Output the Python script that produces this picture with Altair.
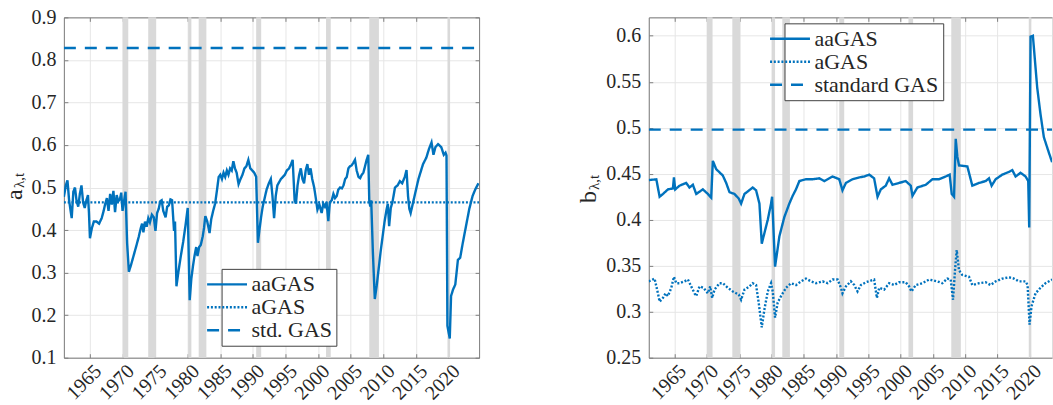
import altair as alt
import pandas as pd

FONT = "Liberation Serif"
BLUE = "#0072BD"
BAND = "#d9d9d9"
GRID = "#e6e6e6"
AXC = "#808080"
TXT = "#262626"

# ---------------- data ----------------
X_MIN = 1961.0
A_X_MAX = 2024.7
B_X_MAX = 2023.45
A_Y_DOM = [0.1, 0.9]
B_Y_DOM = [0.25, 0.62]
X_TICKS = [1965, 1970, 1975, 1980, 1985, 1990, 1995, 2000, 2005, 2010, 2015, 2020]
A_Y_TICKS = [0.1, 0.2, 0.3, 0.4, 0.5, 0.6, 0.7, 0.8, 0.9]
B_Y_TICKS = [0.25, 0.3, 0.35, 0.4, 0.45, 0.5, 0.55, 0.6]

REC_START = [1970.0, 1973.94, 1980.06, 1981.68, 1990.5, 2001.22, 2007.85, 2019.85]
REC_END = [1970.88, 1975.16, 1980.56, 1982.86, 1991.27, 2001.94, 2009.33, 2020.25]

A_NAMES = ["aaGAS", "aGAS", "std. GAS"]
B_NAMES = ["aaGAS", "aGAS", "standard GAS"]

A_AGAS_CONST = 0.465
A_STD_CONST = 0.828
B_STD_CONST = 0.498

A_AA_YEAR = [1961.00, 1961.30, 1961.55, 1961.80, 1962.20, 1962.45, 1962.70, 1962.95, 1963.20, 1963.45,
             1963.70, 1963.95, 1964.20, 1964.45, 1964.70, 1964.85, 1965.00, 1965.30, 1965.60, 1966.00,
             1966.40, 1966.80, 1967.10, 1967.35, 1967.60, 1967.85, 1968.10, 1968.35, 1968.60, 1968.85,
             1969.10, 1969.35, 1969.60, 1969.80, 1970.00, 1970.25, 1970.46, 1970.70, 1970.97, 1971.30,
             1971.70, 1972.10, 1972.50, 1972.80, 1973.00, 1973.20, 1973.45, 1973.70, 1973.95, 1974.20,
             1974.50, 1974.80, 1975.05, 1975.30, 1975.55, 1975.80, 1976.00, 1976.25, 1976.60, 1976.85,
             1977.10, 1977.35, 1977.60, 1977.90, 1978.05, 1978.27, 1978.60, 1978.95, 1979.30, 1979.65,
             1980.00, 1980.30, 1980.55, 1980.80, 1981.05, 1981.30, 1981.50, 1981.75, 1982.00, 1982.30,
             1982.50, 1982.70, 1983.00, 1983.35, 1983.60, 1983.90, 1984.20, 1984.50, 1984.75, 1985.00,
             1985.25, 1985.50, 1985.75, 1986.00, 1986.25, 1986.50, 1986.75, 1987.00, 1987.25, 1987.50,
             1987.80, 1988.10, 1988.40, 1988.70, 1989.00, 1989.30, 1989.60, 1989.90, 1990.20, 1990.50,
             1990.77, 1991.00, 1991.25, 1991.50, 1991.80, 1992.10, 1992.45, 1992.75, 1993.00, 1993.25,
             1993.50, 1993.75, 1994.00, 1994.30, 1994.60, 1994.90, 1995.20, 1995.55, 1995.85, 1996.10,
             1996.40, 1996.60, 1996.85, 1997.10, 1997.35, 1997.60, 1997.85, 1998.10, 1998.35, 1998.60,
             1998.85, 1999.10, 1999.40, 1999.65, 1999.90, 2000.20, 2000.55, 2000.80, 2001.05, 2001.30,
             2001.57, 2001.80, 2002.10, 2002.35, 2002.60, 2002.86, 2003.10, 2003.37, 2003.65, 2003.90,
             2004.15, 2004.40, 2004.65, 2004.90, 2005.15, 2005.40, 2005.66, 2005.92, 2006.20, 2006.45,
             2006.70, 2006.95, 2007.20, 2007.45, 2007.70, 2007.85, 2008.00, 2008.15, 2008.40, 2008.70,
             2009.00, 2009.30, 2009.60, 2009.90, 2010.20, 2010.50, 2010.70, 2010.90, 2011.15, 2011.40,
             2011.80, 2012.20, 2012.55, 2012.90, 2013.30, 2013.57, 2013.80, 2014.00, 2014.20, 2014.50,
             2014.80, 2015.10, 2015.40, 2015.70, 2016.10, 2016.60, 2017.00, 2017.40, 2017.70, 2018.00,
             2018.40, 2018.90, 2019.28, 2019.55, 2019.70, 2019.84, 2020.20, 2020.40, 2020.70, 2021.05,
             2021.45, 2021.80, 2022.20, 2022.70, 2023.20, 2023.70, 2024.10, 2024.60]
A_AA_VAL = [0.478, 0.505, 0.517, 0.470, 0.428, 0.490, 0.500, 0.468, 0.455, 0.485,
            0.505, 0.465, 0.452, 0.470, 0.482, 0.440, 0.381, 0.405, 0.420, 0.420,
            0.415, 0.428, 0.445, 0.462, 0.475, 0.445, 0.485, 0.460, 0.492, 0.442,
            0.482, 0.468, 0.472, 0.488, 0.445, 0.470, 0.490, 0.370, 0.302, 0.318,
            0.340, 0.362, 0.385, 0.405, 0.415, 0.395, 0.420, 0.408, 0.428, 0.418,
            0.436, 0.430, 0.398, 0.440, 0.450, 0.468, 0.470, 0.445, 0.430, 0.455,
            0.458, 0.472, 0.470, 0.398, 0.420, 0.268, 0.305, 0.340, 0.372, 0.410,
            0.452, 0.235, 0.285, 0.315, 0.340, 0.360, 0.339, 0.360, 0.365, 0.385,
            0.405, 0.433, 0.420, 0.393, 0.425, 0.445, 0.462, 0.495, 0.525, 0.530,
            0.520, 0.535, 0.525, 0.540, 0.530, 0.545, 0.540, 0.562, 0.545, 0.535,
            0.508, 0.520, 0.530, 0.545, 0.550, 0.565, 0.545, 0.540, 0.535, 0.525,
            0.370, 0.400, 0.430, 0.455, 0.475, 0.495, 0.510, 0.520, 0.480, 0.428,
            0.480, 0.505, 0.512, 0.520, 0.525, 0.530, 0.540, 0.545, 0.555, 0.565,
            0.470, 0.462, 0.505, 0.530, 0.545, 0.520, 0.510, 0.540, 0.555, 0.530,
            0.545, 0.520, 0.500, 0.475, 0.448, 0.460, 0.440, 0.462, 0.455, 0.465,
            0.421, 0.465, 0.470, 0.485, 0.475, 0.480, 0.495, 0.500, 0.498, 0.505,
            0.520, 0.525, 0.545, 0.550, 0.552, 0.558, 0.565, 0.540, 0.525, 0.522,
            0.530, 0.535, 0.550, 0.565, 0.577, 0.470, 0.455, 0.470, 0.350, 0.238,
            0.270, 0.310, 0.350, 0.385, 0.420, 0.448, 0.462, 0.409, 0.452, 0.465,
            0.500, 0.505, 0.515, 0.510, 0.525, 0.541, 0.480, 0.450, 0.440, 0.460,
            0.480, 0.500, 0.520, 0.535, 0.555, 0.570, 0.590, 0.606, 0.577, 0.595,
            0.602, 0.595, 0.577, 0.582, 0.575, 0.175, 0.145, 0.245, 0.260, 0.272,
            0.330, 0.335, 0.370, 0.410, 0.450, 0.480, 0.495, 0.510]

B_AA_YEAR = [1961.00, 1962.17, 1962.68, 1963.20, 1963.97, 1964.74, 1964.90, 1965.10, 1965.77, 1966.80,
             1967.30, 1967.83, 1968.35, 1969.38, 1970.15, 1970.67, 1970.92, 1971.44, 1972.47, 1972.99,
             1973.50, 1974.27, 1974.94, 1975.30, 1975.82, 1977.10, 1977.62, 1978.14, 1978.50, 1979.43,
             1979.94, 1980.10, 1980.56, 1981.23, 1982.00, 1982.77, 1983.29, 1983.80, 1984.32, 1985.35,
             1986.38, 1987.41, 1988.18, 1989.47, 1990.50, 1991.00, 1991.53, 1992.56, 1993.60, 1994.37,
             1995.14, 1995.90, 1996.43, 1996.94, 1997.70, 1998.23, 1998.74, 1999.77, 2000.80, 2001.58,
             2001.84, 2002.60, 2003.90, 2004.93, 2005.96, 2006.99, 2007.60, 2007.92, 2008.28, 2008.54,
             2008.79, 2009.05, 2010.34, 2011.11, 2012.14, 2013.17, 2013.69, 2014.10, 2014.72, 2015.75,
             2016.78, 2017.30, 2017.81, 2018.58, 2019.36, 2019.77, 2019.92, 2020.13, 2020.49, 2021.16,
             2021.67, 2022.19, 2022.96, 2023.47]
B_AA_VAL = [0.443, 0.444, 0.425, 0.428, 0.433, 0.434, 0.446, 0.433, 0.437, 0.440,
            0.435, 0.438, 0.428, 0.433, 0.428, 0.424, 0.464, 0.455, 0.448, 0.440,
            0.430, 0.428, 0.423, 0.4175, 0.428, 0.435, 0.432, 0.4175, 0.374, 0.400,
            0.4175, 0.425, 0.349, 0.382, 0.403, 0.4175, 0.426, 0.433, 0.442, 0.444,
            0.444, 0.445, 0.442, 0.447, 0.444, 0.432, 0.440, 0.444, 0.446, 0.447,
            0.449, 0.445, 0.425, 0.433, 0.437, 0.445, 0.438, 0.440, 0.442, 0.437,
            0.426, 0.435, 0.438, 0.444, 0.444, 0.447, 0.449, 0.428, 0.425, 0.488,
            0.4685, 0.459, 0.458, 0.437, 0.440, 0.442, 0.445, 0.437, 0.444, 0.449,
            0.452, 0.454, 0.447, 0.451, 0.447, 0.442, 0.3915, 0.599, 0.600, 0.5435,
            0.5147, 0.4897, 0.473, 0.4625]

B_A_YEAR = [1961.00, 1961.90, 1962.42, 1962.68, 1963.20, 1963.60, 1963.97, 1964.49, 1964.90, 1965.26,
            1965.77, 1966.55, 1967.06, 1967.58, 1968.09, 1968.35, 1968.86, 1969.48, 1970.15, 1970.51,
            1970.82, 1971.18, 1971.96, 1972.47, 1973.24, 1974.02, 1974.94, 1975.30, 1975.82, 1976.59,
            1977.10, 1977.62, 1978.03, 1978.50, 1978.91, 1979.43, 1979.94, 1980.20, 1980.56, 1980.97,
            1981.49, 1982.26, 1983.03, 1983.80, 1984.58, 1985.35, 1986.12, 1986.90, 1987.93, 1988.70,
            1989.47, 1990.24, 1990.76, 1991.00, 1991.53, 1992.30, 1992.82, 1993.33, 1993.85, 1994.62,
            1995.90, 1996.33, 1996.69, 1997.46, 1998.23, 1999.00, 1999.77, 2000.80, 2001.32, 2001.68,
            2002.35, 2003.38, 2004.41, 2005.70, 2006.47, 2007.24, 2007.76, 2008.12, 2008.43, 2008.69,
            2009.05, 2009.56, 2010.60, 2011.11, 2012.14, 2013.17, 2013.94, 2014.72, 2015.75, 2016.78,
            2017.55, 2018.32, 2019.36, 2019.67, 2019.97, 2020.28, 2020.90, 2021.67, 2022.44, 2023.47]
B_A_VAL = [0.333, 0.336, 0.320, 0.311, 0.315, 0.320, 0.317, 0.326, 0.338, 0.331,
           0.331, 0.333, 0.335, 0.3275, 0.320, 0.317, 0.3275, 0.326, 0.320, 0.3275,
           0.315, 0.324, 0.331, 0.331, 0.326, 0.322, 0.3186, 0.313, 0.324, 0.3275,
           0.331, 0.329, 0.3096, 0.283, 0.3025, 0.322, 0.331, 0.322, 0.2936, 0.310,
           0.317, 0.326, 0.331, 0.329, 0.333, 0.336, 0.333, 0.331, 0.333, 0.331,
           0.335, 0.335, 0.326, 0.320, 0.3275, 0.333, 0.329, 0.322, 0.329, 0.332,
           0.335, 0.315, 0.326, 0.324, 0.331, 0.329, 0.332, 0.332, 0.3275, 0.322,
           0.329, 0.331, 0.335, 0.333, 0.331, 0.336, 0.335, 0.313, 0.345, 0.367,
           0.345, 0.340, 0.338, 0.329, 0.331, 0.332, 0.329, 0.333, 0.336, 0.3375,
           0.336, 0.333, 0.333, 0.329, 0.286, 0.306, 0.320, 0.326, 0.331, 0.335]

# ---------------- tables ----------------
def series_df(names, aa_year, aa_val, a_year, a_val, std_year, std_val):
    rows = []
    for y, v in zip(aa_year, aa_val):
        rows.append({"year": y, "value": v, "series": names[0]})
    for y, v in zip(a_year, a_val):
        rows.append({"year": y, "value": v, "series": names[1]})
    for y, v in zip(std_year, std_val):
        rows.append({"year": y, "value": v, "series": names[2]})
    return pd.DataFrame(rows)


df_a = series_df(A_NAMES, A_AA_YEAR, A_AA_VAL,
                 [X_MIN, A_X_MAX], [A_AGAS_CONST, A_AGAS_CONST],
                 [X_MIN, A_X_MAX], [A_STD_CONST, A_STD_CONST])
df_b = series_df(B_NAMES, B_AA_YEAR, B_AA_VAL, B_A_YEAR, B_A_VAL,
                 [X_MIN, B_X_MAX], [B_STD_CONST, B_STD_CONST])


def bands_df(ydom):
    return pd.DataFrame({"start": REC_START, "end": REC_END,
                         "ylo": [ydom[0]] * len(REC_START), "yhi": [ydom[1]] * len(REC_START)})


DASHES = [[1, 0], [2, 1.8], [12, 9]]


def panel(df, names, xmax, ydom, yticks, yfmt, width, height, leg_x, leg_y,
          lab_main, lab_sub, lab_pos, right_box):
    xs = alt.Scale(domain=[X_MIN, xmax], nice=False, zero=False)
    ys = alt.Scale(domain=ydom, nice=False, zero=False)
    ds = alt.Scale(domain=names, range=DASHES)
    legend = alt.Legend(title=None, orient="none", legendX=leg_x, legendY=leg_y,
                        symbolType="M-3,0H1", symbolSize=400, symbolStrokeWidth=2.4,
                        symbolStrokeColor=BLUE, symbolFillColor="transparent",
                        labelFont=FONT, labelFontSize=22,
                        labelColor=TXT, labelOffset=3, padding=4, rowPadding=0,
                        strokeColor="#404040", fillColor="white", labelLimit=300)

    main_x = alt.Axis(values=X_TICKS, format="d", labelAngle=-45, labelAlign="right",
                      labelBaseline="middle", labelPadding=10, labelOffset=8,
                      ticks=False, tickSize=0, grid=True, gridColor=GRID,
                      domain=True, domainColor=AXC, title=None, labelFont=FONT,
                      labelFontSize=20, labelColor=TXT, labelFlush=False,
                      labelOverlap=False)
    main_y = alt.Axis(values=yticks, format=yfmt, ticks=False, tickSize=0, labelPadding=8,
                      grid=True, gridColor=GRID, domain=True, domainColor=AXC,
                      title=None, labelFont=FONT, labelFontSize=20, labelColor=TXT,
                      labelFlush=False, labelOverlap=False)
    top_dom = alt.Axis(orient="top", labels=False, ticks=False, grid=False, domain=True,
                       domainColor=AXC, title=None)
    right_dom = alt.Axis(orient="right", labels=False, ticks=False, grid=False, domain=True,
                         domainColor=AXC, title=None)
    bot_ticks = alt.Axis(orient="bottom", values=X_TICKS, labels=False, ticks=True, tickSize=4,
                         tickColor=AXC, offset=-4, domain=False, grid=False, title=None)
    left_ticks = alt.Axis(orient="left", values=yticks, labels=False, ticks=True, tickSize=4,
                          tickColor=AXC, offset=-4, domain=False, grid=False, title=None)
    top_ticks = alt.Axis(orient="top", values=X_TICKS, labels=False, ticks=True, tickSize=4,
                         tickColor=AXC, offset=-4, domain=False, grid=False, title=None)
    right_ticks = alt.Axis(orient="right", values=yticks, labels=False, ticks=True, tickSize=4,
                           tickColor=AXC, offset=-4, domain=False, grid=False, title=None)

    bands = alt.Chart(bands_df(ydom)).mark_rect(color=BAND).encode(
        x=alt.X("start:Q", scale=xs, axis=main_x),
        x2="end:Q",
        y=alt.Y("ylo:Q", scale=ys, axis=main_y),
        y2="yhi:Q",
    )

    def line(name, xaxis, yaxis):
        return alt.Chart(df).transform_filter(alt.datum.series == name).mark_line(
            color=BLUE, strokeWidth=2.4, strokeCap="butt", clip=True
        ).encode(
            x=alt.X("year:Q", scale=xs, axis=xaxis),
            y=alt.Y("value:Q", scale=ys, axis=yaxis),
            strokeDash=alt.StrokeDash("series:N", scale=ds, legend=legend),
            order="year:Q",
        )

    l_aa = line(names[0], top_dom, right_dom if right_box else None)
    l_a = line(names[1], bot_ticks, left_ticks)
    l_std = line(names[2], top_ticks, right_ticks if right_box else None)

    t_main = alt.Chart(pd.DataFrame({"t": [lab_main]})).mark_text(
        angle=270, align="left", baseline="alphabetic", font=FONT, fontSize=24, color=TXT
    ).encode(text="t:N", x=alt.value(lab_pos[0]), y=alt.value(lab_pos[1]))
    t_sub = alt.Chart(pd.DataFrame({"t": [lab_sub]})).mark_text(
        angle=270, align="left", baseline="alphabetic", font=FONT, fontSize=15, color=TXT
    ).encode(text="t:N", x=alt.value(lab_pos[2]), y=alt.value(lab_pos[3]))

    return alt.layer(bands, l_aa, l_a, l_std, t_main, t_sub).resolve_axis(
        x="independent", y="independent"
    ).properties(width=width, height=height)


left = panel(df_a, A_NAMES, A_X_MAX, A_Y_DOM, A_Y_TICKS, ".1f", 416, 341,
             158, 252, "a", "λ,t", (-42.3, 183, -39.5, 171), True)
right = panel(df_b, B_NAMES, B_X_MAX, B_Y_DOM, B_Y_TICKS, ".2~f", 404, 341,
              136, 6, "b", "λ,t", (-52.6, 186, -49.8, 173), False)

chart = alt.hconcat(left, right, spacing=170, bounds="flush").resolve_scale(
    x="independent", y="independent", strokeDash="independent"
).resolve_legend(strokeDash="independent").properties(
    padding={"left": 2, "top": 6, "right": 0, "bottom": 0}
).configure_view(stroke=None).configure(font=FONT)

chart.save("out.html", embed_options={"renderer": "svg", "actions": False})
